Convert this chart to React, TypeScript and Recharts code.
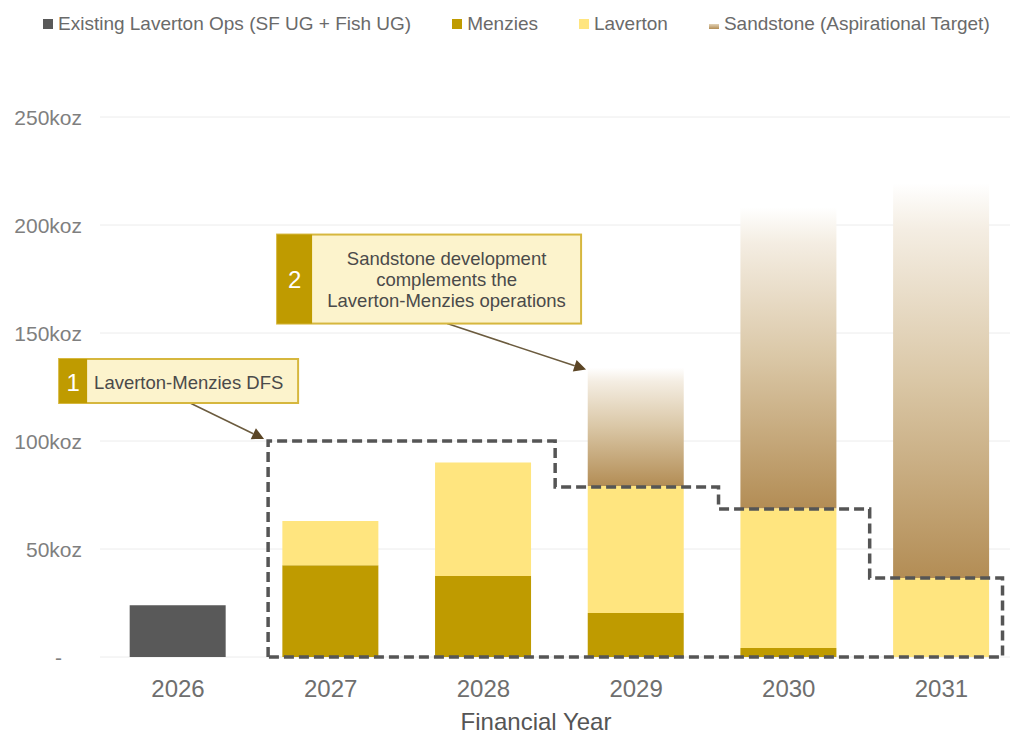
import { Bar, CartesianGrid, ComposedChart, Label, Line, ReferenceDot, XAxis, YAxis } from "recharts";

const YEARS = ['2026', '2027', '2028', '2029', '2030', '2031'];
const EXISTING = [24, 0, 0, 0, 0, 0];
const MENZIES = [0, 42.5, 37.5, 20.4, 4.2, 0];
const LAVERTON = [0, 20.5, 52.5, 58.8, 64.7, 36.6];
const SANDSTONE = [0, 0, 0, 54.8, 139.4, 182.8];

// dashed "Laverton-Menzies" envelope, in axis units (x = year index, y = koz)
const OUTLINE_X = [0.59, 0.59, 2.47, 2.47, 3.54, 3.54, 4.53, 4.53, 5.4, 5.4, 0.59];
const OUTLINE_Y = [0, 100, 100, 78.7, 78.7, 68.5, 68.5, 36.6, 36.6, 0, 0];

const Y_TICKS = [0, 50, 100, 150, 200, 250];

const LEGEND = [
  { name: 'Existing Laverton Ops (SF UG + Fish UG)', color: '#595959' },
  { name: 'Menzies', color: '#BF9B00' },
  { name: 'Laverton', color: '#FFE57F' },
  { name: 'Sandstone (Aspirational Target)', color: 'sand' },
];

const FONT = '"Liberation Sans", Arial, sans-serif';

const data = YEARS.map((year, i) => ({
  idx: i,
  year,
  existing: EXISTING[i],
  menzies: MENZIES[i],
  laverton: LAVERTON[i],
  sandstone: SANDSTONE[i],
}));

const outline = OUTLINE_X.map((ox, i) => ({ ox, oy: OUTLINE_Y[i] }));

function arrow(x1: number, y1: number, x2: number, y2: number, head = 12) {
  const ang = Math.atan2(y2 - y1, x2 - x1);
  const bx = x2 - head * Math.cos(ang);
  const by = y2 - head * Math.sin(ang);
  const w = head * 0.5;
  const px = -Math.sin(ang) * w;
  const py = Math.cos(ang) * w;
  return (
    <g>
      <line x1={x1} y1={y1} x2={bx} y2={by} stroke="#6b5b3e" strokeWidth={1.5} />
      <polygon points={`${x2},${y2} ${bx + px},${by + py} ${bx - px},${by - py}`} fill="#5b4525" />
    </g>
  );
}

function CalloutOne(props: any) {
  const { cx, cy } = props;
  const bx = cx - 209;
  const by = cy - 82;
  return (
    <g>
      {arrow(cx - 78, cy - 38, cx - 4, cy - 2)}
      <rect x={bx} y={by} width={239} height={44} fill="#FCF3CC" stroke="#D6B73E" strokeWidth={2} />
      <rect x={bx} y={by} width={28} height={44} fill="#BF9B00" />
      <text x={bx + 14} y={by + 23} fill="#fff" fontSize={24} textAnchor="middle" dominantBaseline="central" fontFamily={FONT}>1</text>
      <text x={bx + 35} y={by + 23} fill="#4a4a4a" fontSize={18.5} dominantBaseline="central" fontFamily={FONT}>Laverton-Menzies DFS</text>
    </g>
  );
}

function CalloutTwo(props: any) {
  const { cx, cy } = props;
  const bx = cx - 311;
  const by = cy - 133;
  const tx = bx + 35 + (304 - 35) / 2;
  const lines = ['Sandstone development', 'complements the', 'Laverton-Menzies operations'];
  return (
    <g>
      {arrow(cx - 141, cy - 44, cx - 2, cy + 2)}
      <rect x={bx} y={by} width={304} height={89} fill="#FCF3CC" stroke="#D6B73E" strokeWidth={2} />
      <rect x={bx} y={by} width={35} height={89} fill="#BF9B00" />
      <text x={bx + 17.5} y={by + 45} fill="#fff" fontSize={24} textAnchor="middle" dominantBaseline="central" fontFamily={FONT}>2</text>
      {lines.map((l, i) => (
        <text key={l} x={tx} y={by + 24 + i * 21} fill="#4a4a4a" fontSize={18.5} textAnchor="middle" dominantBaseline="central" fontFamily={FONT}>{l}</text>
      ))}
    </g>
  );
}

function YTick({ x, y, payload }: any) {
  const isZero = payload.value === 0;
  return (
    <text x={isZero ? x - 20 : x} y={y} textAnchor="end" dominantBaseline="central" fill="#7f7f7f" fontSize={21} fontFamily={FONT}>
      {isZero ? '-' : `${payload.value}koz`}
    </text>
  );
}

function ChartLegend() {
  return (
    <div style={{ position: 'absolute', top: 13, left: 43, display: 'flex', gap: 41, fontFamily: FONT, fontSize: 19, lineHeight: '22px', color: '#6a6a6a', whiteSpace: 'nowrap' }}>
      {LEGEND.map(item => (
        <div key={item.name} style={{ display: 'flex', alignItems: 'center', gap: 5 }}>
          {item.color === 'sand' ? (
            <span style={{ display: 'inline-block', width: 10, height: 5, marginTop: 5, background: 'linear-gradient(#E2D2B6, #B38D55)' }} />
          ) : (
            <span style={{ display: 'inline-block', width: 10, height: 10, background: item.color }} />
          )}
          <span>{item.name}</span>
        </div>
      ))}
    </div>
  );
}

export default function App() {
  return (
    <div style={{ position: 'absolute', left: 0, top: 0, width: 1011, height: 735, background: '#fff', fontFamily: FONT }}>
      <ComposedChart width={1011} height={735} data={data} margin={{ top: 117, right: 1, left: 0, bottom: 0 }}>
        <defs>
          <linearGradient id="sandGrad" x1="0" y1="0" x2="0" y2="1">
            <stop offset="0" stopColor="#FFFFFF" />
            <stop offset="0.12" stopColor="#F4EDE2" />
            <stop offset="0.5" stopColor="#DAC7A6" />
            <stop offset="1" stopColor="#B38D55" />
          </linearGradient>
        </defs>
        <CartesianGrid vertical={false} stroke="#ececec" />
        <XAxis
          xAxisId="bars"
          type="number"
          dataKey="idx"
          domain={[-0.511, 5.449]}
          allowDataOverflow
          ticks={[0, 1, 2, 3, 4, 5]}
          tickFormatter={(v: number) => YEARS[v]}
          axisLine={false}
          tickLine={false}
          tickMargin={17}
          height={78}
          tick={{ fill: '#6e6e6e', fontSize: 24, fontFamily: FONT }}
        >
          <Label value="Financial Year" position="insideBottom" offset={5} dx={-19} fill="#555" fontSize={24} fontFamily={FONT} />
        </XAxis>
        <XAxis xAxisId="outline" type="number" dataKey="ox" domain={[-0.511, 5.449]} allowDataOverflow hide />
        <YAxis
          domain={[0, 250]}
          ticks={Y_TICKS}
          width={100}
          axisLine={false}
          tickLine={false}
          tickMargin={12}
          tick={<YTick />}
        />
        <Bar xAxisId="bars" dataKey="existing" stackId="a" fill="#595959" barSize={96} isAnimationActive={false} />
        <Bar xAxisId="bars" dataKey="menzies" stackId="a" fill="#BF9B00" barSize={96} isAnimationActive={false} />
        <Bar xAxisId="bars" dataKey="laverton" stackId="a" fill="#FFE57F" barSize={96} isAnimationActive={false} />
        <Bar xAxisId="bars" dataKey="sandstone" stackId="a" fill="url(#sandGrad)" barSize={96} isAnimationActive={false} />
        <Line
          xAxisId="outline"
          data={outline}
          dataKey="oy"
          type="linear"
          stroke="#555"
          strokeWidth={3.5}
          strokeDasharray="10 5"
          dot={false}
          activeDot={false}
          isAnimationActive={false}
        />
        <ReferenceDot xAxisId="bars" x={OUTLINE_X[0]} y={OUTLINE_Y[1]} r={0} shape={(p: any) => <CalloutOne {...p} />} />
        <ReferenceDot xAxisId="bars" x={3 - 48 / 152.7} y={MENZIES[3] + LAVERTON[3] + SANDSTONE[3]} r={0} shape={(p: any) => <CalloutTwo {...p} />} />
      </ComposedChart>
      <ChartLegend />
    </div>
  );
}
